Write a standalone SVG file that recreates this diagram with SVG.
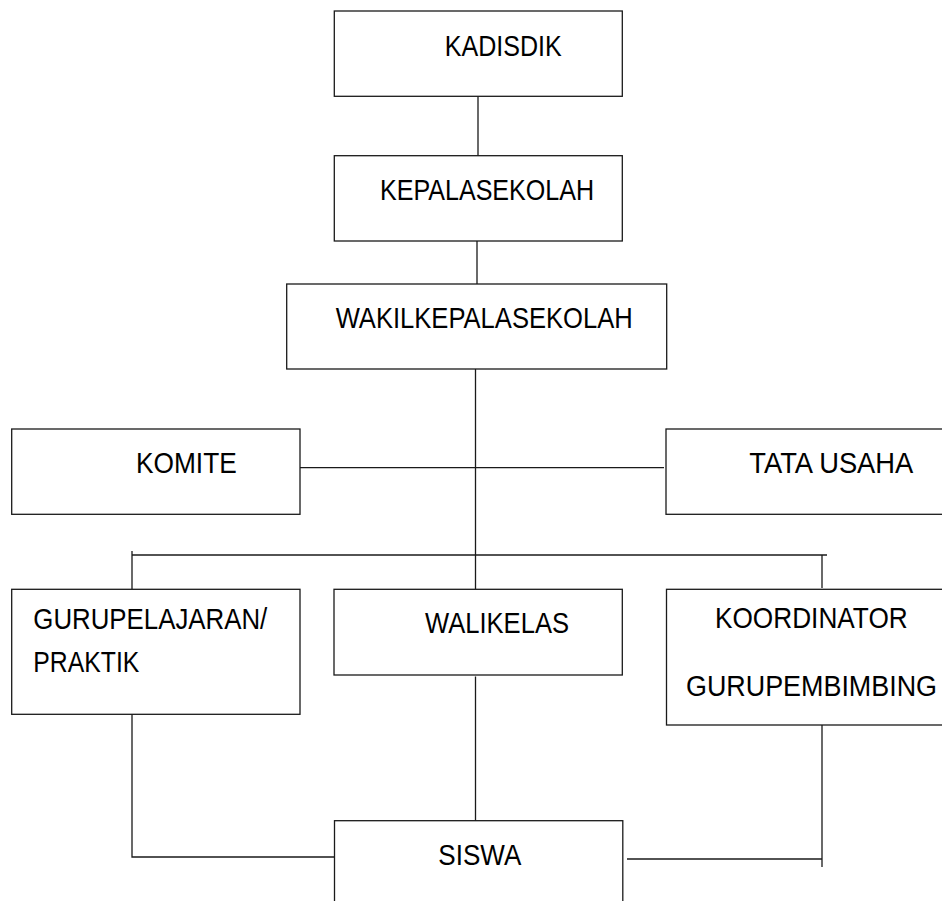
<svg xmlns="http://www.w3.org/2000/svg" width="942" height="901" viewBox="0 0 942 901">
<style>
.box{fill:#fff;stroke:#1a1a1a;stroke-width:1.3}
.ln{fill:none;stroke:#1a1a1a;stroke-width:1.3}
text{font-family:"Liberation Sans",Arial,sans-serif;font-size:29px;fill:#000}
</style>
<rect width="942" height="901" fill="#fff"/>
<g id="connectors">
<line class="ln" x1="478" y1="96" x2="478" y2="156"/>
<line class="ln" x1="477" y1="241" x2="477" y2="284"/>
<line class="ln" x1="475.5" y1="369" x2="475.5" y2="589"/>
<line class="ln" x1="300" y1="467.7" x2="664" y2="467.7"/>
<line class="ln" x1="132" y1="555" x2="827" y2="555"/>
<line class="ln" x1="132" y1="551" x2="132" y2="589"/>
<line class="ln" x1="822" y1="555" x2="822" y2="588"/>
<line class="ln" x1="475.5" y1="676.5" x2="475.5" y2="821"/>
<polyline class="ln" points="132,706 132,857 334.5,857"/>
<polyline class="ln" points="822,710 822,867"/>
<line class="ln" x1="627" y1="859" x2="822" y2="859"/>
</g>
<g id="kadisdik">
<rect class="box" x="334.3" y="11" width="288" height="85.3"/>
<text x="444.8" y="56" textLength="117" lengthAdjust="spacingAndGlyphs">KADISDIK</text>
</g>
<g id="kepalasekolah">
<rect class="box" x="334.3" y="155.7" width="288" height="85.3"/>
<text x="380" y="200" textLength="214" lengthAdjust="spacingAndGlyphs">KEPALASEKOLAH</text>
</g>
<g id="wakil">
<rect class="box" x="286.7" y="284" width="380" height="85"/>
<text x="335.7" y="328" textLength="297" lengthAdjust="spacingAndGlyphs">WAKILKEPALASEKOLAH</text>
</g>
<g id="komite">
<rect class="box" x="11.7" y="429" width="288.3" height="85.3"/>
<text x="136" y="473.3" textLength="100.7" lengthAdjust="spacingAndGlyphs">KOMITE</text>
</g>
<g id="tatausaha">
<rect class="box" x="666" y="429" width="290" height="85.3"/>
<text x="749.3" y="473" textLength="164" lengthAdjust="spacingAndGlyphs">TATA USAHA</text>
</g>
<g id="guru">
<rect class="box" x="11.7" y="589.3" width="288.3" height="125"/>
<text x="33.3" y="629.3" textLength="234" lengthAdjust="spacingAndGlyphs">GURUPELAJARAN/</text>
<text x="33.3" y="671.7" textLength="106" lengthAdjust="spacingAndGlyphs">PRAKTIK</text>
</g>
<g id="walikelas">
<rect class="box" x="334" y="589.3" width="288.3" height="85.7"/>
<text x="425" y="633.3" textLength="144" lengthAdjust="spacingAndGlyphs">WALIKELAS</text>
</g>
<g id="koordinator">
<rect class="box" x="666.5" y="589.3" width="290" height="135.7"/>
<text x="715" y="628.3" textLength="192.7" lengthAdjust="spacingAndGlyphs">KOORDINATOR</text>
<text x="686" y="696" textLength="251" lengthAdjust="spacingAndGlyphs">GURUPEMBIMBING</text>
</g>
<g id="siswa">
<rect class="box" x="334.5" y="820.7" width="288.3" height="100"/>
<text x="438.3" y="865" textLength="83" lengthAdjust="spacingAndGlyphs">SISWA</text>
</g>
</svg>
